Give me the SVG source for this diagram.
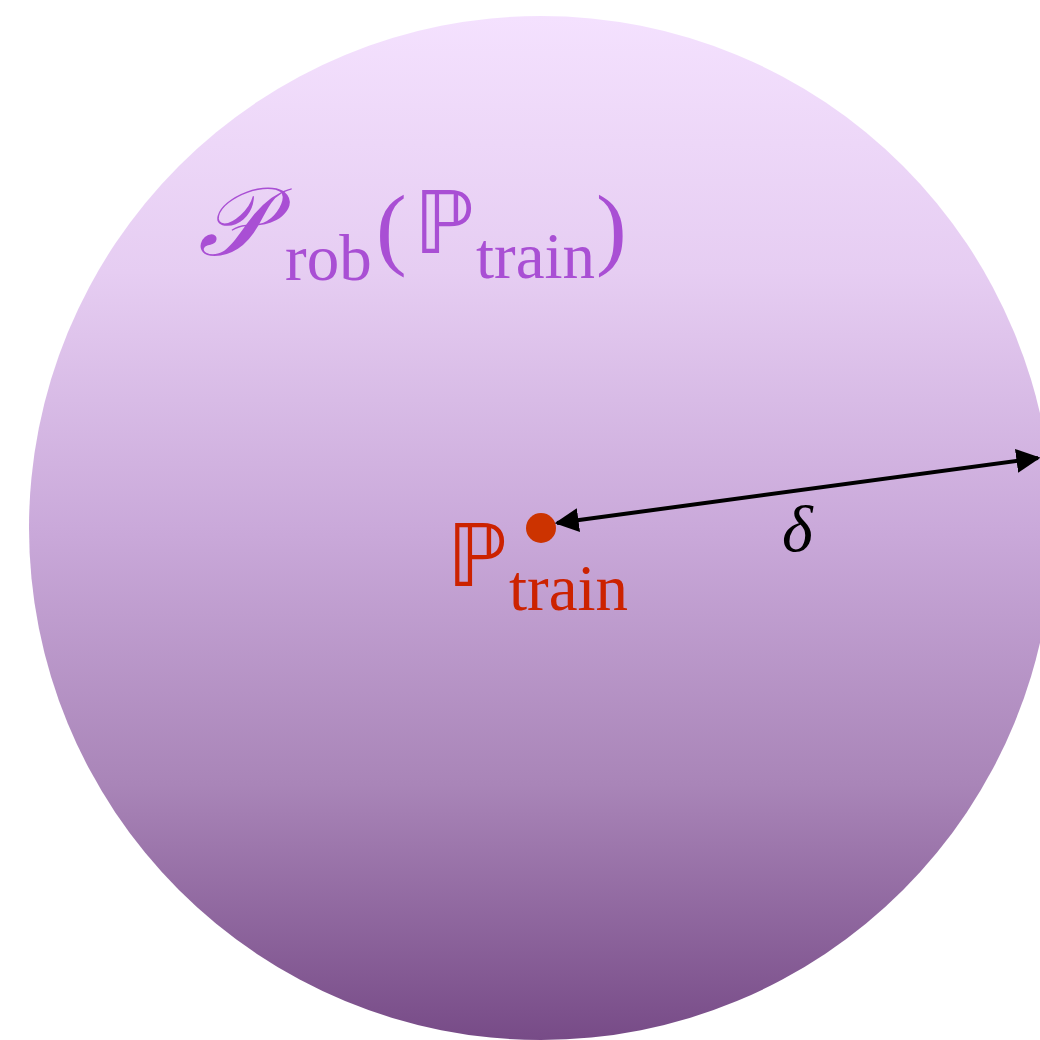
<svg xmlns="http://www.w3.org/2000/svg" width="1040" height="1040" viewBox="0 0 1040 1040">
<defs>
<linearGradient id="ball" x1="0" y1="0" x2="0" y2="1">
<stop offset="0" stop-color="#f4e1fe"/>
<stop offset="0.25" stop-color="#e6cdf2"/>
<stop offset="0.5" stop-color="#caa9da"/>
<stop offset="0.75" stop-color="#a985b8"/>
<stop offset="1" stop-color="#774b87"/>
</linearGradient>
<marker id="ah" viewBox="0 0 10 10" refX="9" refY="5" markerWidth="6" markerHeight="6" orient="auto-start-reverse" markerUnits="strokeWidth">
<path d="M0,0 L10,5 L0,10 Z" fill="#000"/>
</marker>
<style>
.serif{font-family:"Liberation Serif","DejaVu Serif",serif}
.ds{font-family:"DejaVu Sans","DejaVu Serif",sans-serif}
.purple{fill:#a94fd4}
.red{fill:#cc2200}
</style>
</defs>
<g id="ball-node">
<circle cx="541" cy="528" r="512" fill="url(#ball)"/>
</g>
<g id="label-rob">
<text class="serif purple" x="198" y="255" font-size="96" font-style="italic">𝒫</text>
<text class="serif purple" x="285" y="280" font-size="65">rob</text>
<text class="serif purple" x="376" y="258" font-size="92">(</text>
<text class="ds purple" x="414" y="253" font-size="86">ℙ</text>
<text class="serif purple" x="476" y="278" font-size="65">train</text>
<text class="serif purple" x="596" y="258" font-size="92">)</text>
</g>
<g id="train-node">
<circle cx="541" cy="528" r="15" fill="#cc3300"/>
<text class="ds red" x="447" y="586" font-size="86">ℙ</text>
<text class="serif red" x="509" y="610" font-size="65">train</text>
</g>
<g id="connectors">
<line x1="557" y1="523" x2="1038" y2="458" stroke="#000" stroke-width="4" marker-start="url(#ah)" marker-end="url(#ah)"/>
</g>
<g id="delta-label">
<text class="serif" x="782" y="551" font-size="66" font-style="italic" fill="#000">δ</text>
</g>
</svg>
